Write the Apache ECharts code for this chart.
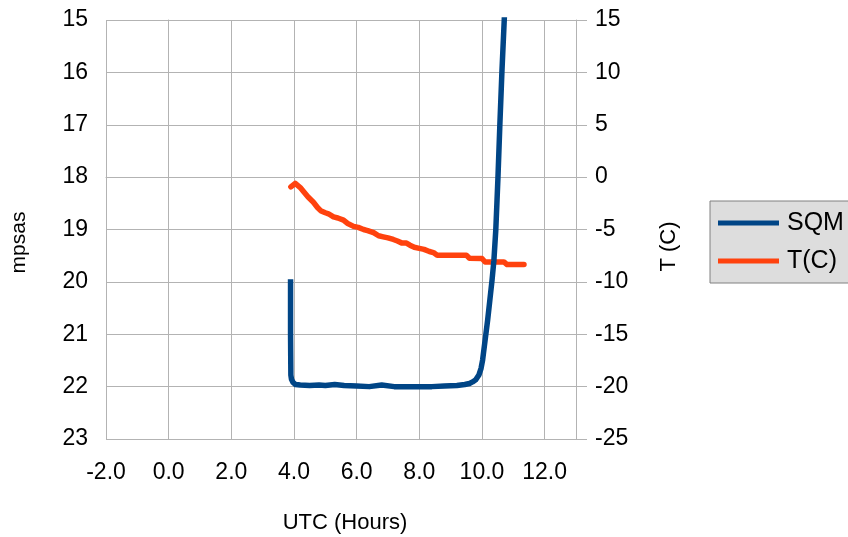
<!DOCTYPE html>
<html>
<head>
<meta charset="utf-8">
<script src="https://cdn.jsdelivr.net/npm/echarts@6/dist/echarts.min.js"></script>
<style>html,body{margin:0;padding:0;background:#fff;}#c{width:848px;height:537px;}</style>
</head>
<body>
<div id="c"></div>
<script>
const xTicks = [-2, 0, 2, 4, 6, 8, 10, 12];
const sqmHours = [3.89, 3.89, 3.90, 3.92, 3.97, 4.05, 4.2, 4.5, 4.8, 5.0, 5.3, 5.6, 6.0, 6.4, 6.8, 7.2, 7.6, 8.0, 8.4, 8.8, 9.2, 9.45, 9.6, 9.7, 9.8, 9.9, 9.97, 10.02, 10.1, 10.18, 10.25, 10.32, 10.38, 10.44, 10.48, 10.51, 10.57, 10.635, 10.71, 10.78];
const sqmValues = [19.95, 21.0, 21.78, 21.86, 21.92, 21.96, 21.97, 21.98, 21.97, 21.98, 21.96, 21.98, 21.99, 22.0, 21.97, 22.0, 22.0, 22.0, 22.0, 21.99, 21.98, 21.96, 21.94, 21.91, 21.87, 21.78, 21.65, 21.49, 21.11, 20.73, 20.35, 19.97, 19.59, 19.01, 18.44, 18.0, 17.0, 16.0, 15.0, 14.0];
const tempHours = [3.9, 4.04, 4.1, 4.2, 4.31, 4.45, 4.62, 4.75, 4.85, 5.0, 5.1, 5.26, 5.4, 5.58, 5.7, 5.9, 6.05, 6.22, 6.35, 6.54, 6.7, 6.85, 7.0, 7.17, 7.3, 7.45, 7.59, 7.7, 7.84, 8.0, 8.15, 8.32, 8.45, 8.57, 9.0, 9.5, 9.6, 10.0, 10.1, 10.7, 10.8, 11.34];
const tempValues = [-0.93, -0.6, -0.7, -1.0, -1.4, -1.9, -2.4, -2.9, -3.2, -3.4, -3.5, -3.8, -3.9, -4.1, -4.4, -4.7, -4.8, -5.0, -5.1, -5.3, -5.6, -5.7, -5.8, -5.95, -6.1, -6.3, -6.3, -6.5, -6.7, -6.8, -6.9, -7.1, -7.2, -7.45, -7.45, -7.45, -7.75, -7.77, -8.1, -8.1, -8.35, -8.35];

const FONT = 'Liberation Sans';
const GRID = '#b3b3b3';
const chart = echarts.init(document.getElementById('c'), null, {renderer: 'canvas'});
chart.setOption({
  animation: false,
  backgroundColor: '#ffffff',
  textStyle: {fontFamily: FONT, color: '#000'},
  grid: {left: 106, right: 272, top: 20, bottom: 98, containLabel: false, outerBoundsMode: 'none'},
  legend: {
    orient: 'vertical',
    left: 710, top: 201,
    data: ['SQM', 'T(C)'],
    icon: 'rect',
    itemWidth: 61, itemHeight: 5,
    itemGap: 12,
    padding: [9, 20, 9, 8],
    backgroundColor: '#dddddd',
    borderColor: '#808080', borderWidth: 1,
    textStyle: {fontFamily: FONT, fontSize: 25, color: '#000', lineHeight: 26, padding: [0, 0, 0, 3]}
  },
  xAxis: {
    type: 'value', min: -2, max: 13, interval: 2,
    name: 'UTC (Hours)', nameLocation: 'middle', nameGap: 73,
    nameTextStyle: {fontFamily: FONT, fontSize: 22, color: '#000', padding: [0, 0, 0, 8]},
    axisLine: {show: true, lineStyle: {color: GRID}},
    axisTick: {show: true, length: 10, lineStyle: {color: GRID}, customValues: xTicks},
    axisLabel: {fontFamily: FONT, fontSize: 23, color: '#000', margin: 22, customValues: xTicks,
      formatter: v => Number(v).toFixed(1)},
    splitLine: {show: true, lineStyle: {color: GRID}}
  },
  yAxis: [{
    type: 'value', min: 15, max: 23, interval: 1, inverse: true, position: 'left',
    name: 'mpsas', nameLocation: 'middle', nameGap: 76, nameRotate: 90,
    nameTextStyle: {fontFamily: FONT, fontSize: 21, color: '#000', padding: [0, 26, 0, 0]},
    axisLine: {show: true, lineStyle: {color: GRID}},
    axisTick: {show: true, length: 11, lineStyle: {color: GRID}},
    axisLabel: {fontFamily: FONT, fontSize: 23, color: '#000', margin: 18},
    splitLine: {show: true, lineStyle: {color: GRID}}
  }, {
    type: 'value', min: -25, max: 15, interval: 5, position: 'right',
    name: 'T (C)', nameLocation: 'middle', nameGap: 82, nameRotate: 90,
    nameTextStyle: {fontFamily: FONT, fontSize: 22, color: '#000', padding: [0, 34, 0, 0]},
    axisLine: {show: true, lineStyle: {color: GRID}},
    axisTick: {show: true, length: 11, lineStyle: {color: GRID}},
    axisLabel: {fontFamily: FONT, fontSize: 23, color: '#000', margin: 19},
    splitLine: {show: false}
  }],
  series: [{
    name: 'T(C)', type: 'line', yAxisIndex: 1, showSymbol: false, symbol: 'none',
    data: tempHours.map((h, i) => [h, tempValues[i]]),
    lineStyle: {color: '#ff420e', width: 5.5, join: 'round', cap: 'round'},
    itemStyle: {color: '#ff420e'}, z: 2
  }, {
    name: 'SQM', type: 'line', yAxisIndex: 0, showSymbol: false, symbol: 'none', clip: true,
    data: sqmHours.map((h, i) => [h, sqmValues[i]]),
    lineStyle: {color: '#004586', width: 5.5, join: 'round'},
    itemStyle: {color: '#004586'}, z: 3
  }]
});
</script>
</body>
</html>
